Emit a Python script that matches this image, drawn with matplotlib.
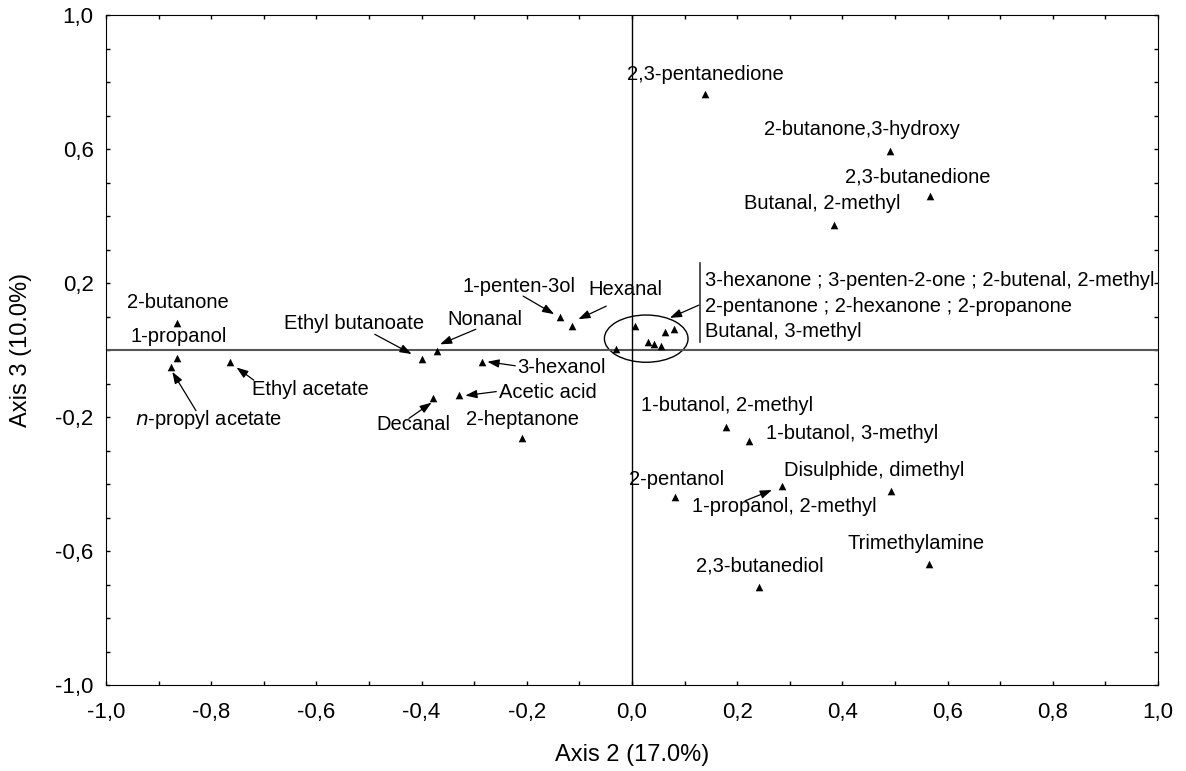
import matplotlib.pyplot as plt
from matplotlib.patches import Ellipse
import numpy as np

plt.rcParams['font.family'] = ['Liberation Sans', 'DejaVu Sans']

# compounds: name, axis 2 and axis 3 loadings
names = ["2,3-pentanedione", "2-butanone,3-hydroxy", "2,3-butanedione", "Butanal, 2-methyl",
         "2-butanone", "1-propanol", "n-propyl acetate", "Ethyl acetate",
         "Ethyl butanoate", "Nonanal", "1-penten-3ol", "Hexanal",
         "3-hexanol", "Acetic acid", "Decanal", "2-heptanone",
         "1-butanol, 2-methyl", "1-butanol, 3-methyl", "2-pentanol", "1-propanol, 2-methyl",
         "Disulphide, dimethyl", "Trimethylamine", "2,3-butanediol"]
ax2 = [0.139, 0.490, 0.567, 0.384,
       -0.866, -0.866, -0.876, -0.765,
       -0.400, -0.371, -0.137, -0.114,
       -0.286, -0.329, -0.379, -0.209,
       0.178, 0.222, 0.082, 0.285,
       0.493, 0.564, 0.241]
ax3 = [0.764, 0.594, 0.460, 0.373,
       0.080, -0.025, -0.052, -0.037,
       -0.027, -0.002, 0.099, 0.073,
       -0.037, -0.134, -0.144, -0.263,
       -0.229, -0.272, -0.440, -0.405,
       -0.421, -0.638, -0.706]
# label positions (text centre)
lab_x = [0.139, 0.437, 0.544, 0.361,
         -0.863, -0.862, -0.806, -0.612,
         -0.528, -0.279, -0.215, -0.013,
         -0.135, -0.160, -0.416, -0.209,
         0.180, 0.418, 0.084, 0.289,
         0.460, 0.540, 0.243]
lab_y = [0.821, 0.657, 0.516, 0.436,
         0.141, 0.039, -0.206, -0.119,
         0.080, 0.092, 0.191, 0.182,
         -0.051, -0.128, -0.221, -0.206,
         -0.167, -0.248, -0.385, -0.466,
         -0.360, -0.577, -0.644]
# arrows: label, start x, start y, end x, end y
arrows = [("n-propyl acetate", -0.829, -0.181, -0.874, -0.065),
          ("Ethyl acetate", -0.719, -0.090, -0.752, -0.052),
          ("Ethyl butanoate", -0.489, 0.047, -0.419, -0.012),
          ("Nonanal", -0.297, 0.062, -0.365, 0.017),
          ("1-penten-3ol", -0.207, 0.161, -0.148, 0.107),
          ("Hexanal", -0.049, 0.131, -0.102, 0.092),
          ("3-hexanol", -0.222, -0.047, -0.275, -0.035),
          ("Acetic acid", -0.258, -0.124, -0.317, -0.136),
          ("Decanal", -0.424, -0.204, -0.381, -0.157),
          ("1-propanol, 2-methyl", 0.215, -0.450, 0.266, -0.418),
          ("cluster", 0.127, 0.134, 0.072, 0.096)]

# cluster near origin
cluster_x = [0.005, -0.031, 0.030, 0.042, 0.055, 0.062, 0.079]
cluster_y = [0.072, 0.002, 0.025, 0.018, 0.012, 0.054, 0.062]
cluster_text = ["3-hexanone ; 3-penten-2-one ; 2-butenal, 2-methyl",
                "2-pentanone ; 2-hexanone ; 2-propanone",
                "Butanal, 3-methyl"]
cluster_text_y = [0.209, 0.129, 0.055]

fig = plt.figure(figsize=(11.86, 7.71), dpi=100)
ax = fig.add_axes([0.0894, 0.1115, 0.887, 0.869])

ax.axhline(0, color='#555555', lw=1.5)
ax.axvline(0, color='black', lw=1.0)

ax.scatter(ax2, ax3, marker='^', s=30, color='black', linewidths=0, zorder=3)
ax.scatter(cluster_x, cluster_y, marker='^', s=30, color='black', linewidths=0, zorder=3)

for i, n in enumerate(names):
    txt = n
    if n.startswith("n-"):
        txt = r"$\it{n}$" + "-propyl acetate"
    ax.text(lab_x[i], lab_y[i], txt, ha='center', va='center', fontsize=14.5)

for a in arrows:
    ax.annotate("", xy=(a[3], a[4]), xytext=(a[1], a[2]),
                arrowprops=dict(arrowstyle='-|>,head_length=0.7,head_width=0.25',
                                color='black', lw=0.9, mutation_scale=10,
                                shrinkA=0, shrinkB=0))

ax.add_patch(Ellipse((0.027, 0.034), 0.159, 0.141, fill=False, color='black', lw=1.0))
ax.plot([0.129, 0.129], [0.023, 0.259], color='#333333', lw=1.2)
for t, ty in zip(cluster_text, cluster_text_y):
    ax.text(0.138, ty, t, ha='left', va='center', fontsize=14.5, clip_on=True)

ax.set_xlim(-1, 1)
ax.set_ylim(-1, 1)
xt = np.arange(-1, 1.01, 0.2)
yt = np.arange(-1, 1.01, 0.4)
ax.set_xticks(xt)
ax.set_xticks(np.arange(-1, 1.01, 0.1), minor=True)
ax.set_yticks(yt)
ax.set_yticks(np.arange(-1, 1.01, 0.1), minor=True)
ax.set_xticklabels([("%.1f" % v).replace('.', ',').replace('-0,0', '0,0') for v in xt])
ax.set_yticklabels([("%.1f" % v).replace('.', ',') for v in yt])
ax.tick_params(which='both', direction='in', top=True, right=True, length=3, width=1)
ax.tick_params(axis='x', labelsize=16, pad=12.5)
ax.tick_params(axis='y', labelsize=16, pad=9)

ax.set_xlabel("Axis 2 (17.0%)", fontsize=17, labelpad=15)
ax.set_ylabel("Axis 3 (10.0%)", fontsize=17, labelpad=17)

fig.savefig("out.png", dpi=100)
